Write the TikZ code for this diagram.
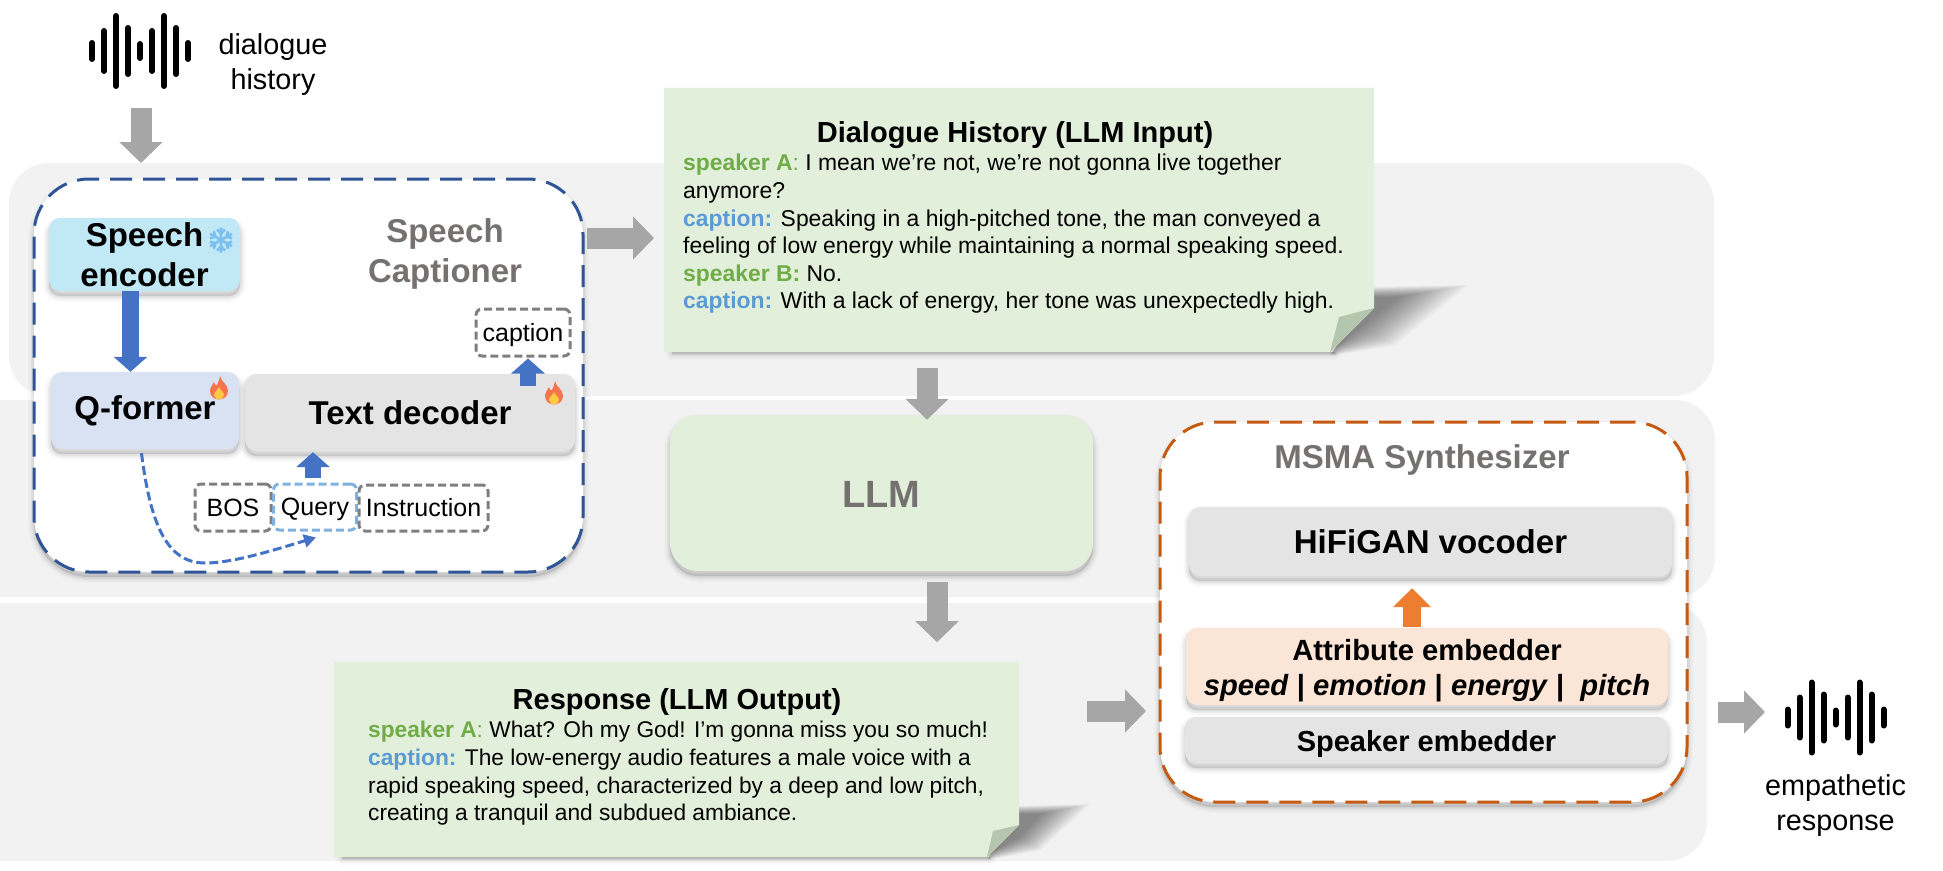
\documentclass[tikz,border=0pt]{standalone}
\usepackage{fontspec}
\setmainfont{Liberation Sans}
\usetikzlibrary{arrows.meta}
\definecolor{bandgray}{HTML}{F2F2F2}
\definecolor{notegreen}{HTML}{E2EFDA}
\definecolor{foldgreen}{HTML}{B5C6AE}
\definecolor{encblue}{HTML}{C1E8F5}
\definecolor{qblue}{HTML}{D9E2F3}
\definecolor{boxgray}{HTML}{E4E4E4}
\definecolor{attrorange}{HTML}{FBE5D6}
\definecolor{darkblue}{HTML}{2F5597}
\definecolor{darkorange}{HTML}{C55A11}
\definecolor{arrowgray}{HTML}{A6A6A6}
\definecolor{arrowblue}{HTML}{4472C4}
\definecolor{arroworange}{HTML}{ED7D31}
\definecolor{titlegray}{HTML}{767171}
\definecolor{dashgray}{HTML}{7F7F7F}
\definecolor{querydash}{HTML}{7FB0E0}
\definecolor{spkgreen}{HTML}{70AD47}
\definecolor{capblue}{HTML}{5B9BD5}
\definecolor{flakeblue}{HTML}{7CC0F0}
\definecolor{flamered}{HTML}{F4744E}
\definecolor{flameyellow}{HTML}{FFC845}
\newcommand\spk[1]{\textcolor{spkgreen}{\bfseries #1}}
\newcommand\cpt[1]{\textcolor{capblue}{\bfseries #1}}
\tikzset{
  softshadow/.style={
    preaction={draw=black,fill=black,solid,line width=12pt,opacity=.015,transform canvas={yshift=-5pt}},
    preaction={draw=black,fill=black,solid,line width=9pt,opacity=.025,transform canvas={yshift=-5pt}},
    preaction={draw=black,fill=black,solid,line width=6pt,opacity=.035,transform canvas={yshift=-5pt}},
    preaction={draw=black,fill=black,solid,line width=3pt,opacity=.045,transform canvas={yshift=-5pt}}},
  band/.style={rectangle,rounded corners=40pt,fill=bandgray,inner sep=0pt},
  frame/.style={rectangle,rounded corners=55pt,fill=white,line width=3pt,dash pattern=on 22pt off 11pt,inner sep=0pt,softshadow},
  block/.style={rectangle,rounded corners=11pt,inner sep=0pt,softshadow,text=black,font=\bfseries\fontsize{33}{40}\selectfont,align=center},
  tag/.style={rectangle,rounded corners=6pt,draw=dashgray,line width=3pt,dash pattern=on 8pt off 4pt,fill=white,inner sep=0pt,text=black,font=\fontsize{25}{30}\selectfont},
  grayarrow/.style={draw=arrowgray,line width=21pt,-{Triangle[length=21pt,width=42pt]}},
  bluearrow/.style={draw=arrowblue,line width=16.5pt,-{Triangle[length=15pt,width=33pt]}},
  orangearrow/.style={draw=arroworange,line width=18pt,-{Triangle[length=19pt,width=37pt]}},
  plainlabel/.style={align=center,inner sep=0pt,font=\fontsize{28.8}{35}\selectfont},
  grouptitle/.style={align=center,inner sep=0pt,text=titlegray,font=\bfseries\fontsize{33}{40}\selectfont},
  notetitle/.style={inner sep=0pt,font=\bfseries\fontsize{29}{34}\selectfont},
  notebody/.style={anchor=west,align=left,inner sep=0pt},
  notearea/.style={inner sep=0pt},
  flame/.pic={
    \fill[fill=flamered] (1,-12) .. controls (2,-6) and (9,-4) .. (9,3) .. controls (9,8) and (5,11.5) .. (0,11.5) .. controls (-5,11.5) and (-9,8) .. (-9,3) .. controls (-9,-1) and (-6,-3) .. (-5,-6) .. controls (-4,-3) and (-3,-2) .. (-2,-3) .. controls (0,-6) and (0,-9) .. (1,-12) -- cycle;
    \fill[fill=flameyellow] (0,-1) .. controls (1,2) and (5,4) .. (5,7) .. controls (5,10) and (2,11.5) .. (0,11.5) .. controls (-2,11.5) and (-5,10) .. (-5,7) .. controls (-5,4) and (-1,2) .. (0,-1) -- cycle;
  },
  snowflake/.pic={
    \foreach \a in {30,90,150,210,270,330}{
      \draw[draw=flakeblue,line width=2.6pt,rotate=\a] (0,0) -- (12.5,0) (6.5,0) -- (10.5,4) (6.5,0) -- (10.5,-4);
    }
  },
  waveform/.pic={
    \foreach \x/\h in {-48/8,-36/20,-24/35,-12/23,0/7,12/20,24/35,36/23,48/8}{
      \draw[draw=black,line width=6pt,line cap=round] (\x,-\h) -- (\x,\h);
    }
  }
}
\begin{document}
\begin{tikzpicture}[x=1pt,y=-1pt]
\useasboundingbox (0,0) rectangle (1943,870);
% bands
\node[band,minimum width=1705pt,minimum height=233pt] (bandA) at (861.5,279.5) {};
\node[band,minimum width=1795pt,minimum height=197pt] (bandB) at (817.5,498.5) {};
\node[band,minimum width=1787pt,minimum height=258pt] (bandC) at (813.5,732) {};

% dialogue history
\pic (wavein) at (140,51) {waveform};
\node[plainlabel] (dlgtext) at (273,64.5) {dialogue\\history};
\coordinate (inS) at (141,108);
\coordinate (inE) at (141,163);
\draw[grayarrow] (inS) -- (inE);

% speech captioner
\node[frame,draw=darkblue,minimum width=549pt,minimum height=393pt] (cap) at (308.5,375.5) {};
\node[block,fill=encblue,minimum width=191pt,minimum height=73pt] (enc) at (144.5,254.5) {Speech\\encoder};
\pic at (221,240) {snowflake};
\node[block,fill=qblue,minimum width=188pt,minimum height=77pt] (qf) at (145,410.5) {Q-former};
\pic at (219,388) {flame};
\node[block,fill=boxgray,minimum width=330pt,minimum height=77pt] (dec) at (410,412.5) {Text decoder};
\pic at (554,393) {flame};
\node[grouptitle] (captitle) at (445,254) {Speech\\Captioner};
\node[tag,minimum width=94pt,minimum height=47pt] (captag) at (523,332.5) {\rule{0pt}{23pt}caption};
\node[tag,minimum width=76pt,minimum height=47pt] (bos) at (233,507.5) {BOS};
\node[tag,draw=querydash,minimum width=83pt,minimum height=46pt] (query) at (315,507) {\rule{0pt}{22pt}Query};
\node[tag,minimum width=129pt,minimum height=46pt] (instr) at (423.5,508) {Instruction};
\draw[bluearrow] ([xshift=-14pt]enc.south) -- ([xshift=-14.5pt]qf.north);
\draw[bluearrow] ([xshift=118pt,yshift=-12pt]dec.north) -- ([xshift=5pt,yshift=-1pt]captag.south);
\draw[bluearrow] ([xshift=-2pt,yshift=5pt]query.north) -- ([xshift=-97pt,yshift=-1pt]dec.south);
\draw[arrowblue,line width=3pt,dash pattern=on 9pt off 4pt,-{Triangle[length=12pt,width=13pt]}]
  ([xshift=-3.5pt,yshift=-4pt]qf.south) .. controls (150,520) and (165,563) .. (205,563) .. controls (235,563) and (280,548) .. ([xshift=1pt,yshift=-6pt]query.south);

% arrow captioner to note
\coordinate (capOut) at (587,238);
\coordinate (noteIn) at (654,238);
\draw[grayarrow] (capOut) -- (noteIn);

% top note
\node[notearea,minimum width=710pt,minimum height=264pt] (note1) at (1019,220) {};
\foreach \w/\o in {12/.02,8/.03,4/.04,1/.05}{
  \draw[draw=black,fill=black,line width=\w pt,line join=round,opacity=\o] (672,352) -- (1335,352) -- (1335,354) -- (672,354) -- cycle;
}
\foreach \t in {0,.07,...,1.01}{
  \fill[fill=black,opacity=.035] (1374,{287+\t*10}) -- ({1468-\t*70},{285+\t*12}) -- ({1395-\t*35},{345-\t*18}) -- ({1330+\t*5},{356-\t*8}) -- cycle;
}
\fill[fill=notegreen] (note1.north west) -- (note1.north east) -- (1374,308) -- (1330,352) -- (note1.south west) -- cycle;
\fill[fill=foldgreen] (1374,308) -- (1339,317) -- (1330,352) -- cycle;
\node[notetitle] (note1title) at (1015,135) {Dialogue History (LLM Input)};
\node[notebody,font=\fontsize{22.9}{27.6}\selectfont] (note1body) at (683,234) {\spk{speaker A}\textcolor{spkgreen}{:} I mean we’re not, we’re not gonna live together\\anymore?\\\cpt{caption:} Speaking in a high-pitched tone, the man conveyed a\\feeling of low energy while maintaining a normal speaking speed.\\\spk{speaker B:} No.\\\cpt{caption:} With a lack of energy, her tone was unexpectedly high.};

% LLM
\node[rectangle,rounded corners=28pt,fill=notegreen,inner sep=0pt,softshadow,minimum width=423pt,minimum height=156pt,text=titlegray,font=\bfseries\fontsize{38}{44}\selectfont] (llm) at (881.5,493) {\rule{0pt}{28.5pt}LLM};
\draw[grayarrow] ([xshift=-92pt,yshift=-16pt]note1.south) -- ([xshift=45.5pt,yshift=-5pt]llm.north);
\draw[grayarrow] ([xshift=55.5pt,yshift=-11pt]llm.south) -- ([xshift=55.5pt,yshift=-71pt]llm.south);

% bottom note
\node[notearea,minimum width=685pt,minimum height=195pt] (note2) at (676.5,759.5) {};
\foreach \w/\o in {12/.02,8/.03,4/.04,1/.05}{
  \draw[draw=black,fill=black,line width=\w pt,line join=round,opacity=\o] (342,857) -- (990,857) -- (990,859) -- (342,859) -- cycle;
}
\foreach \t in {0,.07,...,1.01}{
  \fill[fill=black,opacity=.035] (1019,{806+\t*8}) -- ({1090-\t*50},{804+\t*10}) -- ({1040-\t*20},{850-\t*14}) -- ({987+\t*4},{860-\t*7}) -- cycle;
}
\fill[fill=notegreen] (note2.north west) -- (note2.north east) -- (1019,825) -- (987,857) -- (note2.south west) -- cycle;
\fill[fill=foldgreen] (1019,825) -- (993,831) -- (987,857) -- cycle;
\node[notetitle] (note2title) at (677,702) {Response (LLM Output)};
\node[notebody,font=\fontsize{22.7}{27.6}\selectfont] (note2body) at (368,773.5) {\spk{speaker A}\textcolor{spkgreen}{:} What? Oh my God! I’m gonna miss you so much!\\\cpt{caption:} The low-energy audio features a male voice with a\\rapid speaking speed, characterized by a deep and low pitch,\\creating a tranquil and subdued ambiance.};

% synthesizer
\node[frame,draw=darkorange,minimum width=527pt,minimum height=380pt] (syn) at (1423.5,612) {};
\node[grouptitle] (syntitle) at (1422,460) {MSMA Synthesizer};
\node[block,fill=boxgray,minimum width=483pt,minimum height=69pt] (hifi) at (1430.5,541.5) {HiFiGAN vocoder};
\node[block,fill=attrorange,minimum width=482pt,minimum height=77pt,font=\bfseries\fontsize{29.2}{35}\selectfont] (attr) at (1427,666.5) {\rule{0pt}{29pt}Attribute embedder\\\textit{speed} | \textit{emotion} | \textit{energy} |\ \ \textit{pitch}};
\node[block,fill=boxgray,minimum width=483pt,minimum height=46pt,font=\bfseries\fontsize{29}{34}\selectfont] (spkemb) at (1426.5,740) {\rule{0pt}{28pt}Speaker embedder};
\draw[orangearrow] ([xshift=-15pt,yshift=1pt]attr.north) -- ([xshift=-18.5pt,yshift=-12pt]hifi.south);

% arrows around synthesizer
\coordinate (note2Out) at (1087,711);
\coordinate (synIn) at (1146,711);
\draw[grayarrow] (note2Out) -- (synIn);
\coordinate (synOut) at (1718,712);
\coordinate (waveIn) at (1765,712);
\draw[grayarrow] (synOut) -- (waveIn);
\pic (waveout) at (1835.5,717.5) {waveform};
\node[plainlabel] (resptext) at (1835.5,806) {empathetic\\response};
\end{tikzpicture}
\end{document}
